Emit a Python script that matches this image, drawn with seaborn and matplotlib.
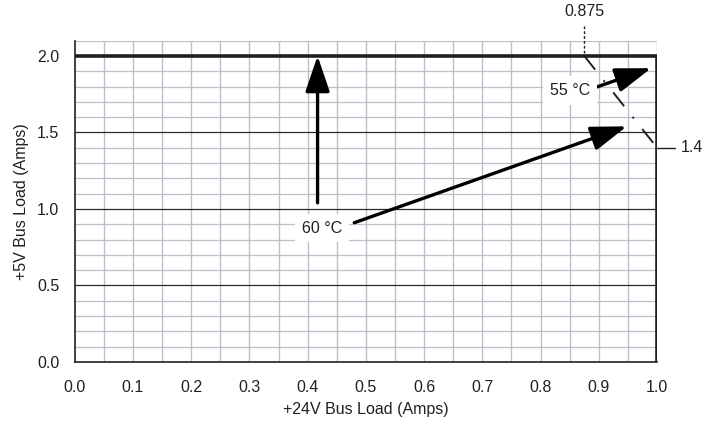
import matplotlib
matplotlib.use("Agg")
import matplotlib.pyplot as plt
import seaborn as sns
import numpy as np
import pandas as pd

# Data
limit_x = [0.0, 1.0, 1.0]
limit_y = [2.0, 2.0, 0.0]
derate_x = [0.875, 1.0]
derate_y = [2.0, 1.4]
x_ticks = [0.0, 0.1, 0.2, 0.3, 0.4, 0.5, 0.6, 0.7, 0.8, 0.9, 1.0]
y_ticks = [0.0, 0.5, 1.0, 1.5, 2.0]
label_60 = "60 °C"
label_55 = "55 °C"
callout_x = "0.875"
callout_y = "1.4"

sns.set_style("white")
plt.rcParams['font.family'] = ['Liberation Sans', 'DejaVu Sans']

FS = 11.5
fig = plt.figure(figsize=(7.05, 4.32), dpi=100)
ax = fig.add_axes([0.106, 0.162, 0.826, 0.744])

ax.set_xlim(0, 1.0)
ax.set_ylim(0, 2.1)

# minor grid
for xv in np.arange(0.05, 1.0001, 0.05):
    ax.axvline(xv, color="#bcc0c8", lw=1.0, zorder=0)
for yv in np.arange(0.1, 2.1001, 0.1):
    major = abs(yv / 0.5 - round(yv / 0.5)) < 1e-6 and yv < 1.99
    ax.axhline(yv, color="#2b2b2b" if major else "#bcc0c8",
               lw=0.9, zorder=0.5 if major else 0)

df_lim = pd.DataFrame({"x": limit_x, "y": limit_y, "u": [0, 0, 0]})
sns.lineplot(data=df_lim, x="x", y="y", sort=False, estimator=None, units="u",
             color="#231f20", lw=2.6, ax=ax, zorder=3, legend=False)
df_der = pd.DataFrame({"x": derate_x, "y": derate_y, "u": [0, 0]})
sns.lineplot(data=df_der, x="x", y="y", sort=False, estimator=None, units="u",
             color="#231f20", lw=1.4, ax=ax, zorder=3, legend=False,
             linestyle=(0, (9, 7, 1, 7)))

ap = dict(arrowstyle="-|>,head_length=2.2,head_width=0.75",
          color="black", lw=2.4, shrinkA=0, shrinkB=0)
ax.annotate("", xy=(0.417, 2.0), xytext=(0.417, 1.04), arrowprops=ap, zorder=4)
ax.annotate("", xy=(0.948, 1.54), xytext=(0.48, 0.91), arrowprops=ap, zorder=4)
ax.annotate("", xy=(0.99, 1.92), xytext=(0.872, 1.765), arrowprops=ap, zorder=4)

ax.text(0.425, 0.875, label_60, ha="center", va="center", fontsize=FS,
        color="#231f20", zorder=5,
        bbox=dict(facecolor="white", edgecolor="none", pad=5))
ax.text(0.85, 1.775, label_55, ha="center", va="center", fontsize=FS,
        color="#231f20", zorder=5,
        bbox=dict(facecolor="white", edgecolor="none", pad=5))

# callouts
ax.plot([0.875, 0.875], [2.02, 2.2], color="#231f20", lw=1, ls=(0, (2, 1.5)),
        clip_on=False, zorder=3)
ax.text(0.875, 2.24, callout_x, ha="center", va="bottom", fontsize=FS,
        color="#231f20")
ax.plot([1.0, 1.03], [1.4, 1.4], color="#231f20", lw=1, clip_on=False, zorder=3)
ax.text(1.04, 1.4, callout_y, ha="left", va="center", fontsize=FS,
        color="#231f20")

ax.set_xticks(x_ticks)
ax.set_xticklabels([f"{v:.1f}" for v in x_ticks])
ax.set_yticks(y_ticks)
ax.set_yticklabels([f"{v:.1f}" for v in y_ticks])
ax.tick_params(axis="both", direction="out", length=6, width=1, color="#231f20",
               labelsize=FS, labelcolor="#231f20", pad=5)
ax.tick_params(axis="x", pad=7)

for s in ["top", "right"]:
    ax.spines[s].set_visible(False)
for s in ["left", "bottom"]:
    ax.spines[s].set_color("#231f20")
    ax.spines[s].set_linewidth(1.2)

ax.set_xlabel("+24V Bus Load (Amps)", fontsize=FS, color="#231f20", labelpad=5)
ax.set_ylabel("+5V Bus Load (Amps)", fontsize=FS, color="#231f20", labelpad=6)

fig.savefig("out.png", dpi=100)
